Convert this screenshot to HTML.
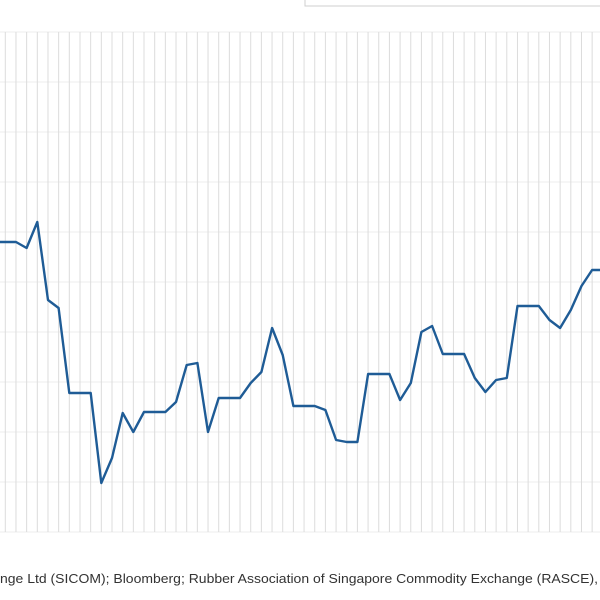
<!DOCTYPE html>
<html><head><meta charset="utf-8"><style>
html,body{margin:0;padding:0;background:#fff;width:600px;height:600px;overflow:hidden}
svg{display:block}
</style></head><body>
<svg id="chart" width="600" height="600" xmlns="http://www.w3.org/2000/svg">
<rect x="305" y="-2" width="300" height="8" fill="#fff" stroke="#cfcfcf"/>
<g id="grid"></g>
<path id="line" fill="none" stroke="#1f5c96" stroke-width="2.4" stroke-linejoin="round"/>
<text x="0" y="583" font-family="Liberation Sans, sans-serif" font-size="12.5" fill="#333" textLength="598" lengthAdjust="spacingAndGlyphs">nge Ltd (SICOM); Bloomberg; Rubber Association of Singapore Commodity Exchange (RASCE),</text>
</svg>
<script>
const periods = [-1,0,1,2,3,4,5,6,7,8,9,10,11,12,13,14,15,16,17,18,19,20,21,22,23,24,25,26,27,28,29,30,31,32,33,34,35,36,37,38,39,40,41,42,43,44,45,46,47,48,49,50,51,52,53,54,55,56];
const values = [58,58,58,56.8,62,46.4,44.8,27.8,27.8,27.8,9.8,14.8,23.8,20,24,24,24,26,33.4,33.8,20,26.8,26.8,26.8,29.8,32,40.8,35.4,25.2,25.2,25.2,24.4,18.4,18,18,31.6,31.6,31.6,26.4,29.8,40,41.2,35.6,35.6,35.6,30.8,28,30.4,30.8,45.2,45.2,45.2,42.4,40.8,44.4,49.2,52.4,52.4];
const yTicks = [0,10,20,30,40,50,60,70,80,90,100];
const xOf = k => 5.3 + 10.67*k;
const yOf = v => 532 - 5*v;
const NS = "http://www.w3.org/2000/svg";
const grid = document.getElementById('grid');
yTicks.forEach(t => {
  const l = document.createElementNS(NS,'line');
  l.setAttribute('x1',0); l.setAttribute('x2',600);
  l.setAttribute('y1',yOf(t)); l.setAttribute('y2',yOf(t));
  l.setAttribute('stroke','#ececec'); l.setAttribute('stroke-width','1');
  
  
  grid.appendChild(l);
});
for (let k = 0; k <= 56; k++) {
  const l = document.createElementNS(NS,'line');
  l.setAttribute('x1',xOf(k)); l.setAttribute('x2',xOf(k));
  l.setAttribute('y1',yOf(100)); l.setAttribute('y2',yOf(0));
  l.setAttribute('stroke','#dcdcdc'); l.setAttribute('stroke-width','1');
  
  
  grid.appendChild(l);
}
document.getElementById('line').setAttribute('d', periods.map((p,i)=>(i?'L':'M')+xOf(p).toFixed(1)+','+yOf(values[i]).toFixed(1)).join(' '));
</script>
</body></html>
